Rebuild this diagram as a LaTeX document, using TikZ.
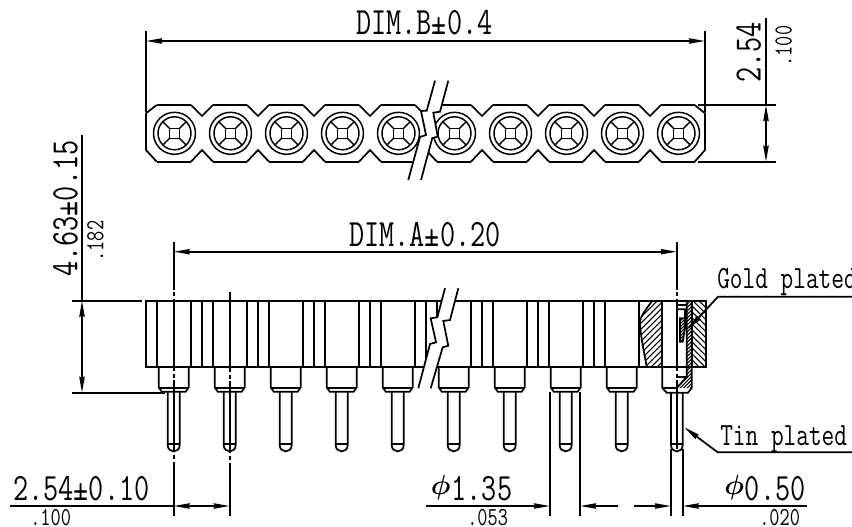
\documentclass[tikz,border=0pt]{standalone}
\usepackage{fontspec}
\usepackage{pgf,tikz}
\usetikzlibrary{arrows.meta}
\newfontfamily\dimfont[FakeStretch=0.76]{Latin Modern Mono}
\newcommand{\bigdim}{\dimfont\fontsize{29}{29}\selectfont}
\newcommand{\smalldim}{\dimfont\fontsize{19.5}{19.5}\selectfont}
\newcommand{\labeldim}{\dimfont\fontsize{24.3}{24.3}\selectfont}
\newcommand{\dia}{\makebox[15.5pt][l]{\raisebox{4.5pt}{\fontsize{20}{20}\selectfont\boldmath$\phi$}}}
\tikzstyle{every node}=[anchor=base west,inner sep=0pt]
\tikzstyle{dimtext}=[font=\bigdim]
\tikzstyle{inchtext}=[font=\smalldim]
\tikzstyle{labeltext}=[font=\labeldim]
\tikzstyle{outline}=[line width=1.3pt]
\tikzstyle{hatch}=[line width=0.8pt]
\tikzstyle{dimline}=[line width=1.3pt,arrows={-Stealth[length=12pt,width=4pt,inset=0.8pt]}]
\tikzstyle{twotips}=[line width=1.3pt,arrows={Stealth[length=12pt,width=4pt,inset=0.8pt]-Stealth[length=12pt,width=4pt,inset=0.8pt]}]
\tikzstyle{centerline}=[line width=1.3pt,dash pattern=on #1 off 2pt on 3pt off 2pt on 54pt off 2pt on 3pt off 2pt on 54pt off 2pt on 3pt off 2pt on 300pt]
\begin{document}
\begin{tikzpicture}[x=0.75pt,y=-0.75pt]
  \useasboundingbox (0,0) rectangle (852,527);
  % top view
  \draw [outline] (156.7,105) -- (146,113.3) -- (146,150) -- (156.7,161.7);
  \draw [outline] (694.7,105) -- (705,113.3) -- (705,150) -- (694.7,161.7);
  \foreach \c in {174.5,230.5,...,622.5} {
    \draw [outline] (\c+16.5,105) -- (\c+27.5,116) -- (\c+38.5,105);
    \draw [outline] (\c+16.5,161.7) -- (\c+27.5,150) -- (\c+38.5,161.7);
  }
  \foreach \c in {174.5,230.5,...,678.5} {
    \draw [outline] (\c-17.8,105) -- (\c+16.5,105);
    \draw [outline] (\c-17.8,161.7) -- (\c+16.5,161.7);
    \draw [line width=1.1pt] (\c,133.3) circle [radius=21];
    \draw [line width=1.1pt] (\c,133.3) circle [radius=16.5];
    \draw [line width=1.1pt] (\c-5,128.3) rectangle (\c+5,138.3);
    \draw [line width=1.1pt] (\c-5,128.3) -- (\c-11.7,121.6);
    \draw [line width=1.1pt] (\c+5,128.3) -- (\c+11.7,121.6);
    \draw [line width=1.1pt] (\c-5,138.3) -- (\c-11.7,145);
    \draw [line width=1.1pt] (\c+5,138.3) -- (\c+11.7,145);
  }
  \fill [white] (435,80.7) -- (426.7,110.7) -- (421,111) -- (426,135) -- (420,137) -- (408.3,180)
    -- (421,180) -- (432.3,138) -- (437.7,136.7) -- (433.3,112.7) -- (440,111.7) -- (448.3,80.7) -- cycle;
  \draw [outline] (435,80.7) -- (426.7,110.7) -- (421,111) -- (426,135) -- (420,137) -- (408.3,180);
  \draw [outline] (448.3,80.7) -- (440,111.7) -- (433.3,112.7) -- (437.7,136.7) -- (432.3,138) -- (421,180);
  % side view
  \draw [outline] (146,300.7) rectangle (705.7,366.7);
  \foreach \c in {173.7,229.7,...,621.7} {
    \draw [outline] (\c-17,300.7) -- (\c-17,366.7);
    \draw [outline] (\c+17,300.7) -- (\c+17,366.7);
    \draw [outline] (\c-15,366.7) -- (\c-15,387.3) -- (\c-12,391.7) -- (\c+12,391.7) -- (\c+15,387.3) -- (\c+15,366.7);
    \draw [outline] (\c-15,388) -- (\c+15,388);
    \draw [outline] (\c-6,391.7) -- (\c-6,445) .. controls (\c-6,453.5) and (\c+6,453.5) .. (\c+6,445) -- (\c+6,391.7);
    \draw [outline] (\c-6,444) -- (\c+6,444);
  }
  \foreach \c in {229.7,285.7,...,621.7} {
    \draw [outline] (\c-28,300.7) -- (\c-28,366.7);
  }
  \fill [white] (445,288.3) -- (437.3,317.3) -- (430.7,318.3) -- (436,342.3) -- (430,344) -- (418.3,388.3)
    -- (430.7,388.3) -- (442.7,347.3) -- (448.3,345.7) -- (443.3,321) -- (450,320) -- (458.3,288.3) -- cycle;
  \draw [outline] (445,288.3) -- (437.3,317.3) -- (430.7,318.3) -- (436,342.3) -- (430,344) -- (418.3,388.3);
  \draw [outline] (458.3,288.3) -- (450,320) -- (443.3,321) -- (448.3,345.7) -- (442.7,347.3) -- (430.7,388.3);
  % section through the last socket
  \begin{scope}
    \clip (652.3,300.7) .. controls (644,312) and (639,318) .. (640,325) .. controls (641,338) and (644,352) .. (646.7,366.7) -- (661.7,366.7) -- (661.7,300.7) -- cycle;
    \foreach \i in {0,6,...,96} {
      \draw [hatch] (560+\i,380) -- (560+\i+80,300);
    }
  \end{scope}
  \begin{scope}
    \clip (692.3,300.7) rectangle (705.7,366.7);
    \foreach \i in {0,6,...,84} {
      \draw [hatch] (620+\i,300) -- (620+\i+70,370);
    }
  \end{scope}
  \begin{scope}
    \clip (686.7,300.7) -- (691.7,300.7) -- (691.7,388) -- (676.7,388) -- (686.7,377) -- cycle;
    \foreach \i in {0,3.5,...,140} {
      \draw [hatch] (570+\i,400) -- (570+\i+100,300);
    }
  \end{scope}
  \begin{scope}
    \clip (680,318.3) -- (685,318.3) -- (685,328) -- (682.7,341.7) -- (680,341.7) -- cycle;
    \foreach \i in {0,3,...,36} {
      \draw [hatch] (650+\i,345) -- (650+\i+30,315);
    }
  \end{scope}
  \draw [outline] (652.3,300.7) .. controls (644,312) and (639,318) .. (640,325) .. controls (641,338) and (644,352) .. (646.7,366.7);
  \draw [outline] (638.7,300.7) -- (638.7,366.7);
  \draw [outline] (661.7,300.7) -- (661.7,366.7);
  \draw [outline] (662.3,366.7) -- (662.3,388) -- (666.7,392.7) -- (688,392.7) -- (691.7,388) -- (691.7,300.7);
  \draw [outline] (686.7,300.7) -- (686.7,377) -- (676.7,388);
  \draw [outline] (692.3,300.7) -- (692.3,366.7);
  \draw [outline] (676.7,377.3) -- (686.7,377.3);
  \draw [outline] (662.3,388) -- (676.7,388);
  \draw [outline] (676.7,305) -- (686.7,305);
  \draw [outline] (676.7,309.3) -- (685,309.3) -- (685,328) -- (682.7,341.7) -- (680,341.7) -- (680,318.3) -- (685,318.3);
  \draw [outline] (671,392.7) -- (671,445) .. controls (671,453.5) and (682.7,453.5) .. (682.7,445) -- (682.7,392.7);
  \draw [outline] (671,444) -- (682.7,444);
  % center lines
  \draw [centerline=36pt] (173.7,241.7) -- (173.7,515.5);
  \draw [centerline=60pt] (229.7,292) -- (229.7,515.5);
  \draw [centerline=36pt] (676.8,241.7) -- (676.8,449);
  % dimensions
  \draw [outline] (146,31) -- (146,112);
  \draw [outline] (705,31) -- (705,112);
  \draw [twotips] (146,41) -- (705,41);
  \draw [outline] (698,105) -- (776,105);
  \draw [outline] (698,161.7) -- (776,161.7);
  \draw [outline] (766,18) -- (766,105);
  \draw [twotips] (766,105) -- (766,161.7);
  \draw [twotips] (173.7,251.7) -- (676.8,251.7);
  \draw [outline] (72,300.7) -- (142,300.7);
  \draw [outline] (72,392.7) -- (165,392.7);
  \draw [outline] (82,135) -- (82,300.7);
  \draw [twotips] (82,300.7) -- (82,392.7);
  \draw [outline] (10,506) -- (173.7,506);
  \draw [twotips] (173.7,506) -- (229.7,506);
  \draw [outline] (550,391.7) -- (550,515.5);
  \draw [outline] (580,391.7) -- (580,515.5);
  \draw [dimline] (426,506) -- (550,506);
  \draw [dimline] (617.7,506) -- (580,506);
  \draw [outline] (671,449) -- (671,515.5);
  \draw [outline] (682.7,449) -- (682.7,515.5);
  \draw [dimline] (634.3,506) -- (671,506);
  \draw [dimline] (806.7,506) -- (682.7,506);
  % leaders
  \draw [dimline] (852,296.7) -- (718,296.7) -- (688,329);
  \draw [dimline] (852,452.3) -- (717.7,452.3) -- (684.3,427.3);
  % texts
  \node [dimtext] (dimb) at (356,35) {DIM.B\textpm 0.4};
  \node [dimtext] (dima) at (349,246.7) {DIM.A\textpm 0.20};
  \node [dimtext,rotate=90] (pitchtop) at (760.7,83) {2.54};
  \node [inchtext,rotate=90] (pitchtopin) at (791.7,66.7) {.100};
  \node [dimtext,rotate=90] (height) at (77.3,277) {4.63\textpm 0.15};
  \node [inchtext,rotate=90] (heightin) at (103.3,261.7) {.182};
  \node [dimtext] (pitch) at (13,500.7) {2.54\textpm 0.10};
  \node [inchtext] (pitchin) at (30,525) {.100};
  \node [dimtext] (collar) at (430.7,500.7) {\dia 1.35};
  \node [inchtext] (collarin) at (467,525) {.053};
  \node [dimtext] (pin) at (724,500.7) {\dia 0.50};
  \node [inchtext] (pinin) at (759,525) {.020};
  \node [labeltext] (gold) at (717,288) {Gold plated};
  \node [labeltext] (tin) at (720,445) {Tin plated};
\end{tikzpicture}
\end{document}
